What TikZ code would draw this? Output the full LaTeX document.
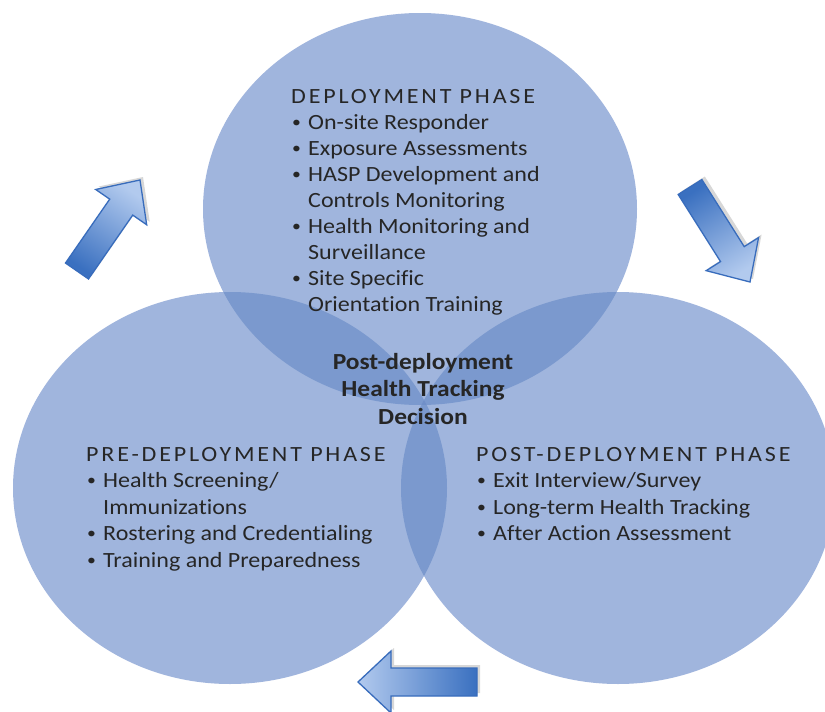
\documentclass[tikz,border=0pt]{standalone}
\usepackage{fontspec}
\setmainfont{Carlito}[Ligatures=NoCommon, FakeStretch=1.107]
\usetikzlibrary{calc}
\definecolor{base}{RGB}{160,181,221}
\definecolor{dbl}{RGB}{123,153,206}
\definecolor{trp}{RGB}{112,143,200}
\definecolor{arrdark}{RGB}{58,112,192}
\definecolor{arrlight}{RGB}{178,202,238}
\definecolor{arredge}{RGB}{56,108,188}
\definecolor{txt}{RGB}{38,38,38}
\newcommand\phasehead[1]{{\addfontfeature{LetterSpace=13}#1}}
\newcommand\phasebullet{\raisebox{1.8pt}{\fontsize{16}{16}\selectfont\textbullet}}
\newcommand\phaseitem[1]{\makebox[17pt][l]{\hspace*{1pt}\phasebullet}#1}
\newcommand\phasecont[1]{\hspace*{17pt}#1}
\newcommand\blockarrowpath[3]{($(#1)!14pt!90:(#2)$) -- ($(#3)!14pt!90:(#2)$) -- ($(#3)!31pt!90:(#2)$) -- (#2) -- ($(#3)!31pt!-90:(#2)$) -- ($(#3)!14pt!-90:(#2)$) -- ($(#1)!14pt!-90:(#2)$) -- cycle}
\tikzset{
  block/.style={anchor=north west, align=left, inner sep=0pt, text=txt},
  topblock/.style={block, font=\fontsize{21.7}{26}\selectfont},
  lowblock/.style={block, font=\fontsize{21.7}{26.5}\selectfont},
  centre/.style={anchor=north, align=center, inner sep=0pt, text=txt, font=\fontsize{23}{27.5}\selectfont\bfseries},
  arrowbody/.style={draw=arredge, line width=1.3pt, line join=miter},
  arrowshadow/.style={fill=black!22, opacity=0.7},
}
\begin{document}
\begin{tikzpicture}[x=1pt,y=-1pt]
\useasboundingbox (0,0) rectangle (825,712);
\fill[white] (0,0) rectangle (825,712);
% circles
\coordinate (ctop) at (420,209);
\coordinate (cleft) at (230,488);
\coordinate (cright) at (618,488);
\fill[base] (420,209) ellipse [x radius=217, y radius=196];
\fill[base] (230,488) ellipse [x radius=217, y radius=196];
\fill[base] (618,488) ellipse [x radius=217, y radius=196];
\begin{scope}
  \clip (420,209) ellipse [x radius=217, y radius=196];
  \fill[dbl] (230,488) ellipse [x radius=217, y radius=196];
  \fill[dbl] (618,488) ellipse [x radius=217, y radius=196];
\end{scope}
\begin{scope}
  \clip (230,488) ellipse [x radius=217, y radius=196];
  \fill[dbl] (618,488) ellipse [x radius=217, y radius=196];
\end{scope}
\begin{scope}
  \clip (420,209) ellipse [x radius=217, y radius=196];
  \clip (230,488) ellipse [x radius=217, y radius=196];
  \fill[trp] (618,488) ellipse [x radius=217, y radius=196];
\end{scope}
% arrows
\coordinate (T1) at (77,271);  \coordinate (P1) at (140,180);
\coordinate (T2) at (690,187); \coordinate (P2) at (750,282);
\coordinate (T3) at (477,682); \coordinate (P3) at (358,682);
\foreach \i in {1,2,3}{
  \coordinate (T\i s) at ($(T\i)+(3,-3)$);
  \coordinate (P\i s) at ($(P\i)+(3,-3)$);
  \coordinate (B\i) at ($(P\i)!33pt!(T\i)$);
  \coordinate (B\i s) at ($(P\i s)!33pt!(T\i s)$);
}
\fill[arrowshadow] \blockarrowpath{T1s}{P1s}{B1s};
\fill[arrowshadow] \blockarrowpath{T2s}{P2s}{B2s};
\fill[arrowshadow] \blockarrowpath{T3s}{P3s}{B3s};
\draw[arrowbody, bottom color=arrdark, top color=arrlight, shading angle=-34.5] \blockarrowpath{T1}{P1}{B1};
\draw[arrowbody, bottom color=arrdark, top color=arrlight, shading angle=-147.7] \blockarrowpath{T2}{P2}{B2};
\draw[arrowbody, bottom color=arrdark, top color=arrlight, shading angle=90] \blockarrowpath{T3}{P3}{B3};
% texts
\node[topblock] (deploy) at (291,89) {\phasehead{DEPLOYMENT PHASE}\\
\phaseitem{On-site Responder}\\
\phaseitem{Exposure Assessments}\\
\phaseitem{HASP Development and}\\
\phasecont{Controls Monitoring}\\
\phaseitem{Health Monitoring and}\\
\phasecont{Surveillance}\\
\phaseitem{Site Specific}\\
\phasecont{Orientation Training}};
\node[lowblock] (pre) at (86,447) {\phasehead{PRE-DEPLOYMENT PHASE}\\
\phaseitem{Health Screening/}\\
\phasecont{Immunizations}\\
\phaseitem{Rostering and Credentialing}\\
\phaseitem{Training and Preparedness}};
\node[lowblock] (post) at (476,447) {\phasehead{POST-DEPLOYMENT PHASE}\\
\phaseitem{Exit Interview/Survey}\\
\phaseitem{Long-term Health Tracking}\\
\phaseitem{After Action Assessment}};
\node[centre] (decision) at (423,353) {Post-deployment\\Health Tracking\\Decision};
\end{tikzpicture}
\end{document}
